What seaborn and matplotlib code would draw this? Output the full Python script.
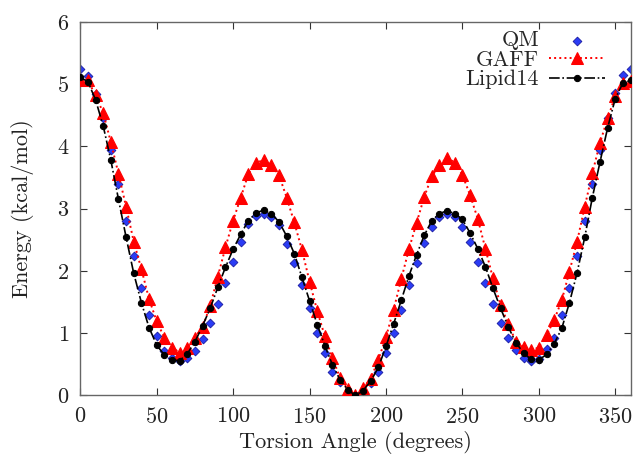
import numpy as np
import pandas as pd
import seaborn as sns
import matplotlib.pyplot as plt

# torsion scan, every 5 degrees
angle = list(range(0, 361, 5))

qm = [5.24, 5.13, 4.85, 4.46, 3.94, 3.39, 2.81, 2.24, 1.73, 1.29,
      0.95, 0.72, 0.60, 0.55, 0.60, 0.72, 0.91, 1.16, 1.47, 1.81,
      2.15, 2.47, 2.75, 2.88, 2.92, 2.86, 2.74, 2.44, 2.13, 1.77,
      1.40, 1.01, 0.68, 0.38, 0.21, 0.06, 0.00,
      0.05, 0.20, 0.38, 0.68, 1.01, 1.38, 1.77, 2.12, 2.45, 2.70,
      2.86, 2.91, 2.87, 2.71, 2.47, 2.15, 1.81, 1.47, 1.16, 0.92,
      0.73, 0.61, 0.56, 0.58, 0.74, 0.93, 1.29, 1.72, 2.24, 2.80,
      3.39, 3.95, 4.46, 4.86, 5.14, 5.24]

gaff = [5.06, 5.06, 4.82, 4.54, 4.07, 3.56, 3.03, 2.47, 2.03, 1.55,
        1.19, 0.93, 0.77, 0.69, 0.76, 0.93, 1.10, 1.44, 1.91, 2.38,
        2.81, 3.18, 3.56, 3.74, 3.78, 3.70, 3.54, 3.18, 2.78, 2.34,
        1.83, 1.36, 0.95, 0.60, 0.28, 0.10, 0.00,
        0.12, 0.27, 0.57, 0.94, 1.38, 1.87, 2.35, 2.77, 3.19, 3.52,
        3.70, 3.82, 3.74, 3.54, 3.22, 2.84, 2.36, 1.88, 1.45, 1.15,
        0.86, 0.78, 0.73, 0.77, 0.97, 1.21, 1.53, 1.99, 2.47, 3.03,
        3.57, 4.06, 4.45, 4.81, 5.02, 5.05]

lipid14 = [5.11, 5.04, 4.75, 4.33, 3.78, 3.15, 2.54, 1.96, 1.49, 1.09,
           0.81, 0.65, 0.57, 0.56, 0.67, 0.86, 1.12, 1.40, 1.74, 2.06,
           2.35, 2.59, 2.81, 2.93, 2.98, 2.92, 2.79, 2.56, 2.28, 1.90,
           1.52, 1.14, 0.80, 0.49, 0.25, 0.09, 0.00,
           0.08, 0.23, 0.45, 0.79, 1.15, 1.53, 1.92, 2.26, 2.57, 2.81,
           2.92, 2.97, 2.92, 2.83, 2.61, 2.36, 2.07, 1.72, 1.40, 1.10,
           0.85, 0.68, 0.58, 0.57, 0.66, 0.83, 1.08, 1.49, 1.97, 2.54,
           3.18, 3.75, 4.30, 4.77, 5.02, 5.06]

x_ticks = [0, 50, 100, 150, 200, 250, 300, 350]
y_ticks = [0, 1, 2, 3, 4, 5, 6]

df = pd.DataFrame({'angle': angle, 'QM': qm, 'GAFF': gaff, 'Lipid14': lipid14})

sns.set_theme(style="ticks")
plt.rcParams['font.family'] = ['cmr10', 'DejaVu Serif']
plt.rcParams['axes.formatter.use_mathtext'] = True
fs = 16

fig = plt.figure(figsize=(6.34, 4.55), dpi=100)
ax = fig.add_axes([0.1266, 0.1308, 0.868, 0.821])

sns.scatterplot(data=df, x='angle', y='QM', marker='D', s=20, color='#2a3cf5',
                edgecolor='#1a1aa0', linewidth=0.6, label='QM', ax=ax, zorder=2)
sns.lineplot(data=df, x='angle', y='GAFF', color='red', linestyle=':', linewidth=1.4,
             marker='^', markersize=8, markeredgecolor='red', label='GAFF', ax=ax, zorder=3)
sns.lineplot(data=df, x='angle', y='Lipid14', color='black', linestyle='-.', linewidth=1.2,
             marker='o', markersize=4.5, markeredgecolor='black', label='Lipid14', ax=ax, zorder=4)

ax.set_xlim(0, 360)
ax.set_ylim(0, 6)
ax.set_xticks(x_ticks)
ax.set_yticks(y_ticks)
ax.tick_params(direction='in', top=True, right=True, length=5, width=0.8,
               colors='#333333', labelsize=fs, pad=8)
ax.tick_params(axis='both', labelcolor='#222222')
for sp in ax.spines.values():
    sp.set_visible(True)
    sp.set_color('#666666')
    sp.set_linewidth(1.0)

ax.set_xlabel('Torsion Angle (degrees)', fontsize=fs, color='#222222', labelpad=3)
ax.set_ylabel('Energy (kcal/mol)', fontsize=fs, color='#222222', labelpad=16)

ax.legend(loc='upper right', bbox_to_anchor=(0.973, 1.006), frameon=False,
          markerfirst=False, fontsize=fs, borderpad=0, labelspacing=0.0,
          handlelength=2.5, handletextpad=0.45)

fig.savefig('out.png', dpi=100)
